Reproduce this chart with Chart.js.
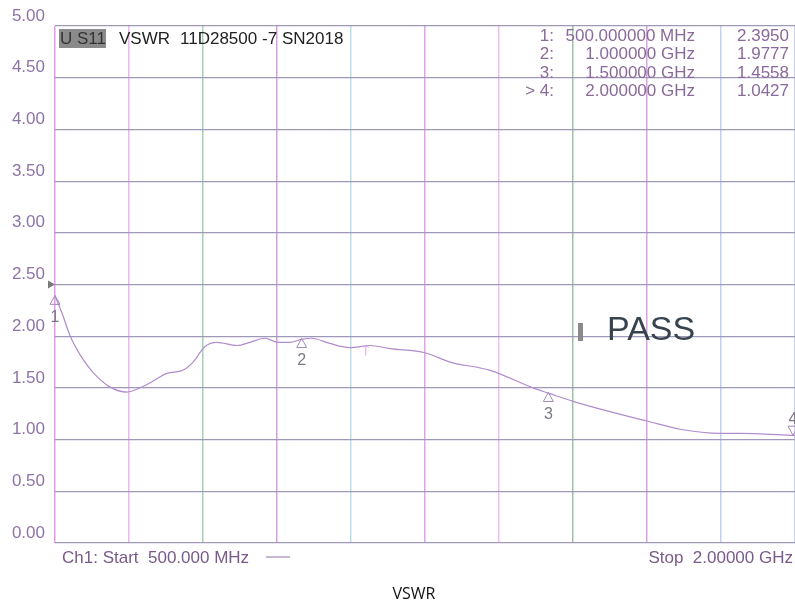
<!DOCTYPE html>
<html>
<head>
<meta charset="utf-8">
<script src="https://cdn.jsdelivr.net/npm/chart.js@4.4.1/dist/chart.umd.min.js"></script>
<style>
  html, body { margin: 0; padding: 0; background: #fff; }
  #wrap { width: 795px; height: 605px; }
</style>
</head>
<body>
<div id="wrap"><canvas id="vswrChart" width="795" height="605"></canvas></div>
<script>
// Trace (frequency in MHz, VSWR)
const freqs = [500, 516, 530, 551, 577, 611, 646, 672, 693, 727, 759, 780, 804, 828, 869, 895, 926, 952, 976, 1000, 1020, 1057, 1098, 1139, 1179, 1250, 1301, 1382, 1469, 1500, 1550, 1625, 1700, 1767, 1848, 1888, 2000];
const vswr = [2.39, 2.20, 2.01, 1.82, 1.65, 1.51, 1.46, 1.50, 1.55, 1.64, 1.67, 1.75, 1.90, 1.94, 1.91, 1.94, 1.98, 1.94, 1.94, 1.97, 1.98, 1.93, 1.89, 1.91, 1.88, 1.84, 1.75, 1.67, 1.50, 1.45, 1.37, 1.27, 1.18, 1.10, 1.06, 1.06, 1.04];

// Marker table
const markerIds = ['1:', '2:', '3:', '> 4:'];
const markerFreqs = [500, 1000, 1500, 2000];
const markerFreqText = ['500.000000 MHz', '1.000000 GHz', '1.500000 GHz', '2.000000 GHz'];
const markerVals = [2.3950, 1.9777, 1.4558, 1.0427];

const startText = 'Ch1: Start  500.000 MHz';
const stopText = 'Stop  2.00000 GHz';

// colours of the vertical division lines, left to right
const vLineColors = ['#e49aea', '#ecb6ee', '#a6d2b0', '#d89ee2', '#bcdfea', '#e0a2ec', '#f0c0f4', '#9cc2a6', '#d8a2e4', '#bed2f4', '#d0d0ec'];

const FONT = '"Liberation Sans", Arial, sans-serif';
const LABEL = '#8e73a5';

const overlay = {
  id: 'overlay',
  afterDraw(chart) {
    const ctx = chart.ctx;
    const xs = chart.scales.x, ys = chart.scales.y;
    ctx.save();

    // header
    ctx.fillStyle = '#8a8a8a';
    ctx.fillRect(59, 29, 47, 19);
    ctx.font = '17px ' + FONT;
    ctx.textBaseline = 'middle';
    ctx.textAlign = 'left';
    ctx.fillStyle = '#333';
    ctx.fillText('U S11', 60, 39);
    ctx.fillStyle = '#222';
    ctx.fillText('VSWR', 119, 39);
    ctx.fillText('11D28500', 180, 39);
    ctx.fillText('-7', 262, 39);
    ctx.fillText('SN2018', 282, 39);

    // marker table
    ctx.fillStyle = '#8a6a9a';
    markerIds.forEach((id, i) => {
      const y = 36 + i * 18.5;
      ctx.textAlign = 'right';
      ctx.fillText(id, 554, y);
      ctx.fillText(markerFreqText[i], 695, y);
      ctx.fillText(markerVals[i].toFixed(4), 789, y);
    });

    // markers on the trace
    ctx.strokeStyle = '#a08ab8';
    ctx.lineWidth = 1;
    ctx.font = '16px ' + FONT;
    ctx.textAlign = 'center';
    markerFreqs.forEach((f, i) => {
      const px = xs.getPixelForValue(f);
      const py = ys.getPixelForValue(markerVals[i]);
      ctx.beginPath();
      if (i < 3) {
        ctx.moveTo(px, py);
        ctx.lineTo(px - 5, py + 9);
        ctx.lineTo(px + 5, py + 9);
      } else {
        ctx.moveTo(px - 2, py);
        ctx.lineTo(px - 7, py - 9);
        ctx.lineTo(px + 3, py - 9);
      }
      ctx.closePath();
      ctx.stroke();
      ctx.fillStyle = '#7d7a85';
      if (i < 3) ctx.fillText(String(i + 1), px, py + 22);
      else ctx.fillText(String(i + 1), px - 2, py - 16);
    });

    // reference level arrow at 2.50
    const ry = ys.getPixelForValue(2.5);
    ctx.fillStyle = '#7a7a7a';
    ctx.beginPath();
    ctx.moveTo(48, ry - 4);
    ctx.lineTo(55, ry);
    ctx.lineTo(48, ry + 4);
    ctx.closePath();
    ctx.fill();

    // small tick mark on the trace
    const tx = xs.getPixelForValue(1130);
    const ty = ys.getPixelForValue(1.91);
    ctx.strokeStyle = '#e0a0e0';
    ctx.beginPath();
    ctx.moveTo(tx, ty);
    ctx.lineTo(tx, ty + 10);
    ctx.moveTo(tx - 3, ty + 2);
    ctx.lineTo(tx, ty);
    ctx.lineTo(tx + 3, ty + 2);
    ctx.stroke();

    // PASS
    ctx.fillStyle = '#8a8a8a';
    ctx.fillRect(578, 323, 5, 18);
    ctx.font = '34px ' + FONT;
    ctx.textAlign = 'left';
    ctx.fillStyle = '#37434d';
    ctx.fillText('PASS', 607, 331);

    // footer
    ctx.font = '17px ' + FONT;
    ctx.fillStyle = '#7a5a8a';
    ctx.fillText(startText, 62, 558);
    ctx.strokeStyle = '#8a70a0';
    ctx.beginPath();
    ctx.moveTo(266, 557);
    ctx.lineTo(290, 557);
    ctx.stroke();
    ctx.textAlign = 'right';
    ctx.fillText(stopText, 793, 558);

    ctx.textAlign = 'center';
    ctx.fillStyle = '#111';
    ctx.font = '16px "Open Sans", sans-serif';
    ctx.fillText('VSWR', 414, 594);
    ctx.restore();
  }
};

const ctx = document.getElementById('vswrChart').getContext('2d');
new Chart(ctx, {
  type: 'line',
  data: {
    datasets: [{
      data: freqs.map((f, i) => ({ x: f, y: vswr[i] })),
      borderColor: '#b08ccc',
      borderWidth: 1.2,
      pointRadius: 0,
      tension: 0.4,
      cubicInterpolationMode: 'monotone',
      fill: false
    }]
  },
  options: {
    responsive: false,
    animation: false,
    layout: { padding: { top: 26, right: 0, bottom: 62, left: 0 } },
    plugins: { legend: { display: false }, tooltip: { enabled: false } },
    scales: {
      x: {
        type: 'linear',
        min: 500,
        max: 2000,
        ticks: { display: false, stepSize: 150 },
        grid: {
          drawTicks: false,
          lineWidth: 1.5,
          color: vLineColors
        },
        border: { display: false }
      },
      y: {
        min: 0,
        max: 5,
        afterFit: s => { s.width = 55; },
        ticks: {
          stepSize: 0.5,
          padding: 10,
          labelOffset: -10,
          color: LABEL,
          font: { family: FONT, size: 17 },
          callback: v => v.toFixed(2)
        },
        grid: { drawTicks: false, color: '#a098b8', lineWidth: 1.2 },
        border: { display: false }
      }
    }
  },
  plugins: [overlay]
});
</script>
</body>
</html>
